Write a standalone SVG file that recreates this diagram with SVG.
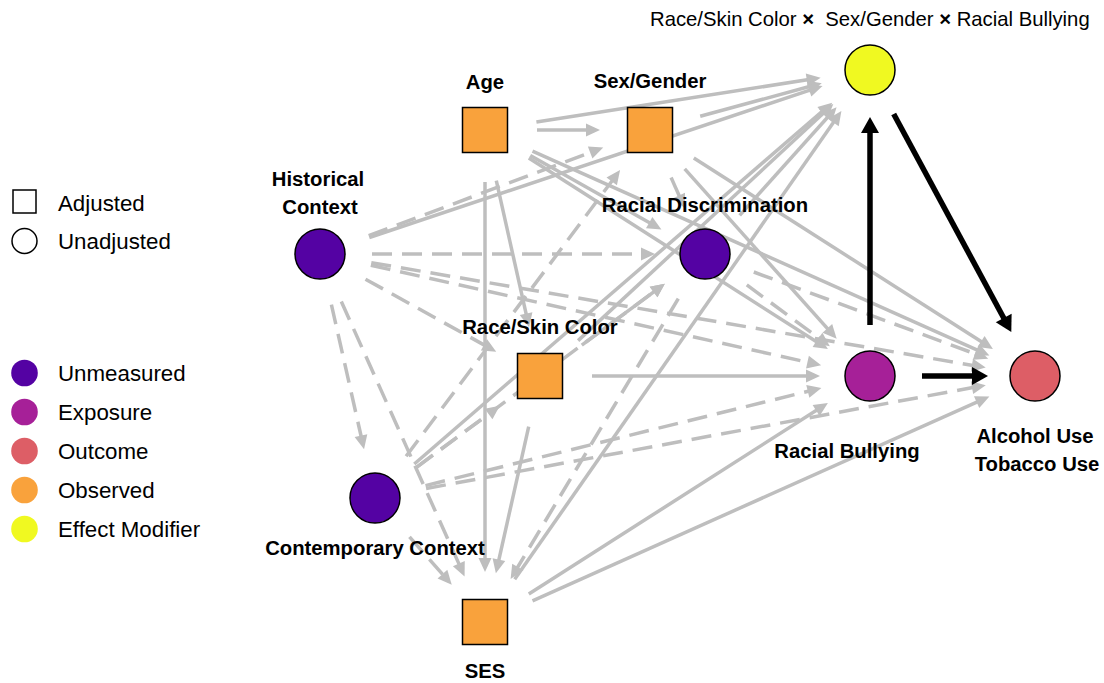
<svg xmlns="http://www.w3.org/2000/svg" width="1104" height="683" viewBox="0 0 1104 683">
<defs>
<style>
.e{stroke:#BEBEBE;stroke-width:3.5;fill:none;marker-end:url(#ga)}
.d{stroke-dasharray:20 10}
.k{stroke:#000;stroke-width:5.5;fill:none;marker-end:url(#ka)}
.n{stroke:#000;stroke-width:1.5}
.un{fill:#5402A3}.ex{fill:#A62098}.oc{fill:#DD5E66}.ob{fill:#F9A23C}.em{fill:#F0F921}
.lb{font-family:"Liberation Sans",Arial,sans-serif;font-weight:bold;font-size:20.3px;fill:#000;text-anchor:middle}
.lg{font-family:"Liberation Sans",Arial,sans-serif;font-size:22.3px;fill:#000}
.tt{font-family:"Liberation Sans",Arial,sans-serif;font-size:20.3px;fill:#000}
</style>
<marker id="ga" markerUnits="userSpaceOnUse" markerWidth="14" markerHeight="13" refX="7" refY="6.5" orient="auto" overflow="visible"><path d="M0,0 L14,6.5 L0,13 z" fill="#BEBEBE"/></marker>
<marker id="ka" markerUnits="userSpaceOnUse" markerWidth="16" markerHeight="18" refX="8" refY="9" orient="auto" overflow="visible"><path d="M0,0 L16,9 L0,18 z" fill="#000"/></marker>
</defs>
<rect width="1104" height="683" fill="#fff"/>
<g id="connectors">
<line class="e" x1="537" y1="130" x2="593" y2="130"/>
<line class="e" x1="536.4" y1="122" x2="813.7" y2="78.8"/>
<line class="e" x1="530.3" y1="155.5" x2="655.3" y2="226"/>
<line class="e" x1="528.8" y1="158" x2="822" y2="345.3"/>
<line class="e" x1="532.5" y1="151.2" x2="983" y2="352.7"/>
<line class="e" x1="496.3" y1="180.7" x2="527.6" y2="320.4"/>
<line class="e" x1="485" y1="182" x2="485" y2="565"/>
<line class="e" x1="700.2" y1="116.3" x2="815" y2="85"/>
<line class="e" x1="671.1" y1="177.5" x2="681.9" y2="201.9"/>
<line class="e" x1="684.7" y1="168.8" x2="832" y2="333.6"/>
<line class="e" x1="693.8" y1="158" x2="987" y2="345.3"/>
<line class="e" x1="369.3" y1="237.5" x2="815.9" y2="88.1"/>
<line class="e d" x1="368.7" y1="235.7" x2="596.7" y2="150"/>
<line class="e d" x1="372" y1="254" x2="648" y2="254"/>
<line class="e d" x1="370.8" y1="265.3" x2="814.3" y2="363.7"/>
<line class="e d" x1="371.3" y1="262.7" x2="978.8" y2="366.4"/>
<line class="e d" x1="365.5" y1="279.2" x2="490.1" y2="348.3"/>
<line class="e d" x1="331.4" y1="304.7" x2="362.5" y2="442.4"/>
<line class="e d" x1="341.3" y1="301.5" x2="461.7" y2="570"/>
<line class="e" x1="414.3" y1="464" x2="826.9" y2="107.3"/>
<line class="e d" x1="406.1" y1="456.3" x2="615.9" y2="175.7"/>
<line class="e d" x1="416.8" y1="467.1" x2="659.2" y2="287.9"/>
<line class="e d" x1="416.8" y1="467.1" x2="494.2" y2="409.9"/>
<line class="e d" x1="425.5" y1="485.6" x2="814.6" y2="389.7"/>
<line class="e d" x1="426.1" y1="488.5" x2="978.9" y2="386.4"/>
<line class="e d" x1="409.5" y1="536.9" x2="447.1" y2="579.4"/>
<line class="e" x1="578.1" y1="340.6" x2="828.2" y2="108.8"/>
<line class="e" x1="581.8" y1="345.1" x2="659.2" y2="287.9"/>
<line class="e" x1="592" y1="376" x2="813" y2="376"/>
<line class="e" x1="528.7" y1="426.7" x2="497.4" y2="566.4"/>
<line class="e" x1="739.7" y1="215.3" x2="831.9" y2="112.5"/>
<line class="e d" x1="746.8" y1="284.9" x2="824.2" y2="342.1"/>
<line class="e d" x1="753.8" y1="272" x2="981.6" y2="356.2"/>
<line class="e d" x1="678.3" y1="298.6" x2="514.2" y2="573"/>
<line class="e" x1="514.7" y1="579.3" x2="837.4" y2="116.7"/>
<line class="e" x1="528.8" y1="594" x2="822" y2="406.7"/>
<line class="e" x1="532.5" y1="600.8" x2="983" y2="399.3"/>
<line class="k" x1="870" y1="325" x2="870" y2="125"/>
<line class="k" x1="893.7" y1="114" x2="1007.5" y2="325"/>
<line class="k" x1="922" y1="376" x2="980" y2="376"/>
</g>
<g id="node-age"><rect class="n ob" x="462.5" y="107.5" width="45" height="45"/><text class="lb" x="485" y="89">Age</text></g>
<g id="node-sex"><rect class="n ob" x="627.5" y="107.5" width="45" height="45"/><text class="lb" x="650" y="88">Sex/Gender</text></g>
<g id="node-em"><circle class="n em" cx="870" cy="70" r="25"/><text class="tt" x="650" y="26" xml:space="preserve">Race/Skin Color <tspan font-weight="bold">×</tspan>  Sex/Gender <tspan font-weight="bold">×</tspan> Racial Bullying</text></g>
<g id="node-hist"><circle class="n un" cx="320" cy="254" r="25"/><text class="lb" x="318" y="186">Historical</text><text class="lb" x="320" y="214">Context</text></g>
<g id="node-rd"><circle class="n un" cx="705" cy="254" r="25"/><text class="lb" x="705" y="212">Racial Discrimination</text></g>
<g id="node-race"><rect class="n ob" x="517.5" y="353.5" width="45" height="45"/><text class="lb" x="540" y="334">Race/Skin Color</text></g>
<g id="node-rb"><circle class="n ex" cx="870" cy="376" r="25"/><text class="lb" x="847" y="458">Racial Bullying</text></g>
<g id="node-out"><circle class="n oc" cx="1035" cy="376" r="25"/><text class="lb" x="1035" y="443">Alcohol Use</text><text class="lb" x="1037" y="471">Tobacco Use</text></g>
<g id="node-cc"><circle class="n un" cx="375" cy="498" r="25"/><text class="lb" x="375" y="555">Contemporary Context</text></g>
<g id="node-ses"><rect class="n ob" x="462.5" y="599.5" width="45" height="45"/><text class="lb" x="485" y="678">SES</text></g>
<g id="legend">
<rect x="13" y="190" width="23" height="23" fill="none" stroke="#000" stroke-width="1.5"/>
<text class="lg" x="58" y="211">Adjusted</text>
<circle cx="24.5" cy="241" r="12.5" fill="none" stroke="#000" stroke-width="1.5"/>
<text class="lg" x="58" y="249">Unadjusted</text>
<circle class="un" cx="24.5" cy="373" r="13.3"/><text class="lg" x="58" y="381">Unmeasured</text>
<circle class="ex" cx="24.5" cy="412" r="13.3"/><text class="lg" x="58" y="420">Exposure</text>
<circle class="oc" cx="24.5" cy="451" r="13.3"/><text class="lg" x="58" y="459">Outcome</text>
<circle class="ob" cx="24.5" cy="490" r="13.3"/><text class="lg" x="58" y="498">Observed</text>
<circle class="em" cx="24.5" cy="529" r="13.3"/><text class="lg" x="58" y="537">Effect Modifier</text>
</g>
</svg>
